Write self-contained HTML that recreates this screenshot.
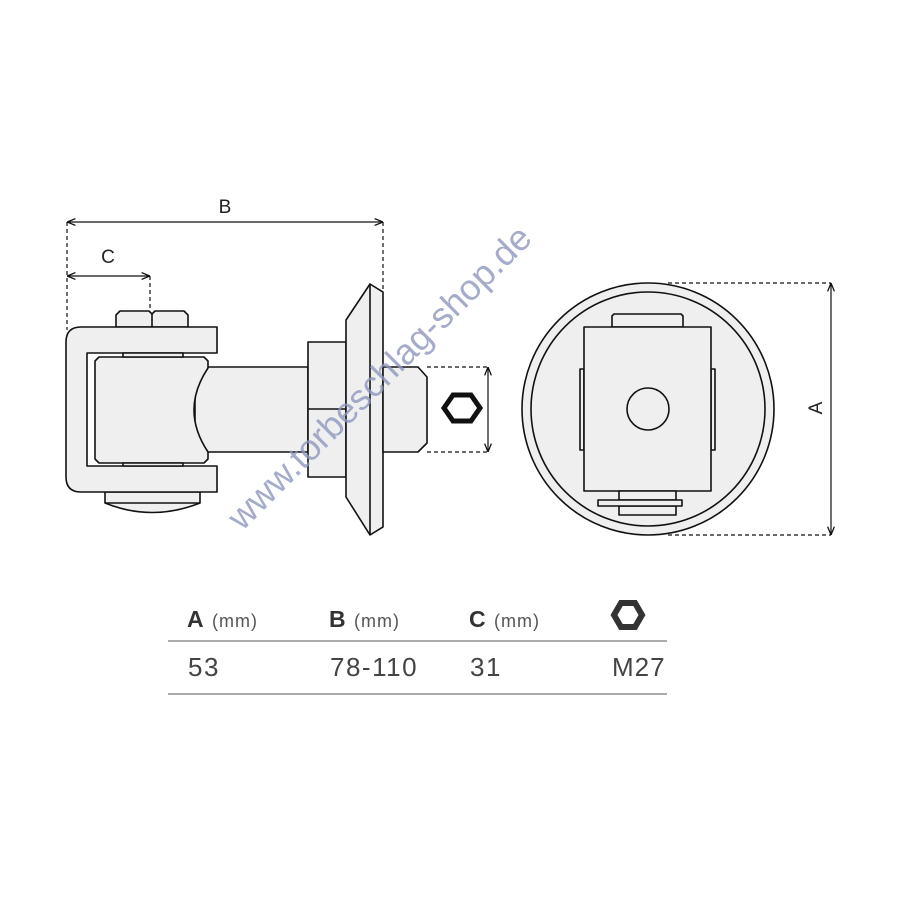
<!DOCTYPE html>
<html><head><meta charset="utf-8"><style>
html,body{margin:0;padding:0;background:#fff;}
svg{display:block}
</style></head><body>
<svg width="900" height="900" viewBox="0 0 900 900" xmlns="http://www.w3.org/2000/svg">
<defs>
<marker id="ar" viewBox="0 0 10 10" refX="10" refY="5" markerWidth="7" markerHeight="7" orient="auto-start-reverse"><path d="M0,1 L10,5 L0,9" fill="none" stroke="#111" stroke-width="1.5"/></marker>
</defs>
<g font-family="Liberation Sans, sans-serif" fill="#222">
<text x="225" y="213" font-size="19" text-anchor="middle">B</text>
<text x="108" y="263" font-size="19" text-anchor="middle">C</text>
<text x="0" y="0" font-size="19" text-anchor="middle" transform="translate(822,408) rotate(-90)">A</text>
</g>
<g stroke="#111" stroke-width="1.2" fill="none">
<line x1="67" y1="222" x2="383" y2="222" marker-start="url(#ar)" marker-end="url(#ar)"/>
<line x1="67" y1="276" x2="150" y2="276" marker-start="url(#ar)" marker-end="url(#ar)"/>
<line x1="831" y1="283" x2="831" y2="535" marker-start="url(#ar)" marker-end="url(#ar)"/>
<line x1="488" y1="367" x2="488" y2="452" marker-start="url(#ar)" marker-end="url(#ar)"/>
<g stroke-dasharray="4,3">
<line x1="67" y1="222" x2="67" y2="330"/>
<line x1="383" y1="222" x2="383" y2="292"/>
<line x1="150" y1="276" x2="150" y2="311"/>
<line x1="427" y1="367" x2="488" y2="367"/>
<line x1="427" y1="452" x2="488" y2="452"/>
<line x1="668" y1="283" x2="831" y2="283"/>
<line x1="668" y1="535" x2="831" y2="535"/>
</g>
</g>
<g stroke="#111" stroke-width="1.6" fill="#efefef" stroke-linejoin="round">
<path d="M116,327 L116,315 L120,311 L149,311 L152,314 L155,311 L184,311 L188,315 L188,327 Z"/>
<line x1="152" y1="314" x2="152" y2="327"/>
<path d="M105,492 L105,503 Q152,522 200,503 L200,492 Z"/>
<line x1="105" y1="503" x2="200" y2="503"/>
<path d="M81,327 L217,327 L217,353 L87,353 L87,466 L217,466 L217,492 L81,492 Q66,492 66,477 L66,342 Q66,327 81,327 Z"/>
<rect x="195" y="367" width="113" height="85"/>
<path d="M99,357 L204,357 L208,361 L208,368 Q180,410 208,452 L208,459 L204,463 L99,463 L95,459 L95,361 Z"/>
<rect x="123" y="353" width="60" height="4"/>
<rect x="123" y="463" width="60" height="3"/>
<rect x="308" y="342" width="38" height="135"/>
<line x1="308" y1="409" x2="346" y2="409"/>
<path d="M346,320 L370,284 L383,292 L383,527 L370,535 L346,497 Z"/>
<line x1="370" y1="284" x2="370" y2="535"/>
<path d="M383,367 L418,367 L427,377 L427,443 L418,452 L383,452 Z"/>
<circle cx="648" cy="409" r="126"/>
<circle cx="648" cy="409" r="117"/>
<path d="M612,327 L612,316 L614,314 L681,314 L683,316 L683,327 Z"/>
<rect x="580" y="369" width="4" height="81"/>
<rect x="711" y="369" width="4" height="81"/>
<rect x="584" y="327" width="127" height="164"/>
<circle cx="648" cy="409" r="21"/>
<rect x="619" y="491" width="57" height="9"/>
<rect x="619" y="506" width="57" height="9"/>
<rect x="598" y="500" width="84" height="6"/>
</g>
<polygon points="444,408 453,395 471,395 480,408 471,421 453,421" fill="none" stroke="#111" stroke-width="5"/>
<text x="0" y="0" font-family="Liberation Sans, sans-serif" font-size="36" fill="#8f96bd" fill-opacity="0.8" text-anchor="middle" transform="translate(388,386) rotate(-45)">www.torbeschlag-shop.de</text>
<g font-family="Liberation Sans, sans-serif" fill="#333">
<text x="187" y="627" font-size="23" font-weight="bold">A</text><text x="212" y="627" font-size="18" fill="#555" letter-spacing="1">(mm)</text>
<text x="329" y="627" font-size="23" font-weight="bold">B</text><text x="354" y="627" font-size="18" fill="#555" letter-spacing="1">(mm)</text>
<text x="469" y="627" font-size="23" font-weight="bold">C</text><text x="494" y="627" font-size="18" fill="#555" letter-spacing="1">(mm)</text>
<text x="188" y="676" font-size="26" fill="#444" letter-spacing="1.5">53</text>
<text x="330" y="676" font-size="26" fill="#444" letter-spacing="1.5">78-110</text>
<text x="470" y="676" font-size="26" fill="#444" letter-spacing="1.5">31</text>
<text x="612" y="676" font-size="26" fill="#444" letter-spacing="1">M27</text>
</g>
<polygon points="614,615 621,603 635,603 642,615 635,627 621,627" fill="none" stroke="#333" stroke-width="6"/>
<line x1="168" y1="641" x2="667" y2="641" stroke="#aaa" stroke-width="2"/>
<line x1="168" y1="694" x2="667" y2="694" stroke="#aaa" stroke-width="2"/>
</svg>
</body></html>
